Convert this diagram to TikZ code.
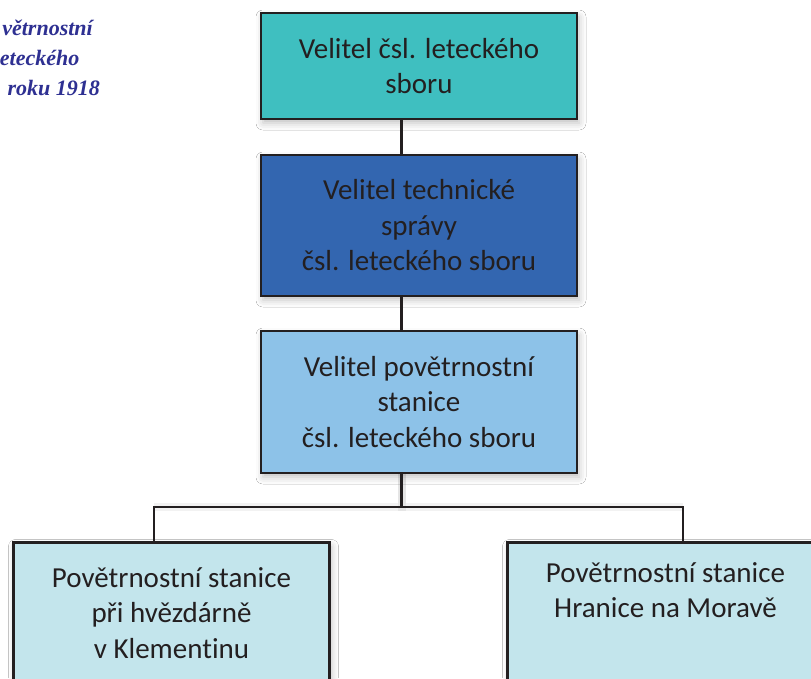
\documentclass[tikz,border=0pt]{standalone}
\usepackage{fontspec}
\setmainfont{Carlito}[Ligatures=NoCommon]
\newfontfamily\captionfont{Liberation Serif}
\usetikzlibrary{shadows.blur}

\definecolor{inkdark}{HTML}{231F20}
\definecolor{navyink}{HTML}{2E3092}
\definecolor{tealbox}{HTML}{3FBFC0}
\definecolor{royalbox}{HTML}{3366B0}
\definecolor{skybox}{HTML}{8DC2E8}
\definecolor{paleebox}{HTML}{C3E5EC}

\tikzset{
  orgbox/.style={draw=inkdark, line width=2.6pt, rectangle, inner sep=0pt,
    text=inkdark, align=center, minimum width=316pt,
    font=\fontsize{29}{35.5}\selectfont,
    blur shadow={shadow xshift=2pt, shadow yshift=-4pt,
      shadow blur radius=7pt, shadow opacity=25}},
  link/.style={draw=inkdark, line width=2.6pt},
  linkshade/.style={draw=black, line width=8pt, opacity=0.05},
  caption/.style={text=navyink, anchor=base east, inner sep=0pt,
    font=\captionfont\bfseries\itshape\fontsize{22}{26}\selectfont}
}

\begin{document}
\begin{tikzpicture}[x=1pt,y=-1pt]
  \useasboundingbox (0,0) rectangle (811,678);
  \clip (0,0) rectangle (811,678);
  \fill[white] (0,0) rectangle (811,678);

  % side caption, running off the left edge
  \node[caption] (cap1) at (93,35) {větrnostní};
  \node[caption] (cap2) at (79.5,65) {eteckého};
  \node[caption] (cap3) at (100,95) {roku 1918};

  % chain of command
  \node[orgbox, fill=tealbox, minimum height=106pt] (top) at (419,66)
    {Velitel čsl. leteckého\\sboru};
  \node[orgbox, fill=royalbox, minimum height=141pt] (tech) at (419,225.5)
    {Velitel technické\\správy\\čsl. leteckého sboru};
  \node[orgbox, fill=skybox, minimum height=142pt] (met) at (419,402)
    {Velitel povětrnostní\\stanice\\čsl. leteckého sboru};

  % the two stations
  \node[orgbox, fill=paleebox, minimum height=141pt] (kle) at (171.5,613)
    {Povětrnostní stanice\\při hvězdárně\\v Klementinu};
  \node[orgbox, fill=paleebox, minimum height=141pt] (hra) at (665.5,613)
    {Povětrnostní stanice\\Hranice na Moravě\\\strut};

  % connectors (spine and drops sit off the box centres)
  \coordinate (spine) at (401.7,0);
  \coordinate (jl) at (154,507);
  \coordinate (jr) at (683,507);
  \draw[linkshade, shift={(2,5)}] (met.south -| spine) |- (jl);
  \draw[linkshade, shift={(2,5)}] (met.south -| spine) |- (jr);
  \draw[link] (top.south -| spine) -- (tech.north -| spine);
  \draw[link] (tech.south -| spine) -- (met.north -| spine);
  \draw[link] (met.south -| spine) |- (jl) -- (jl |- kle.north);
  \draw[link] (met.south -| spine) |- (jr) -- (jr |- hra.north);
\end{tikzpicture}
\end{document}
